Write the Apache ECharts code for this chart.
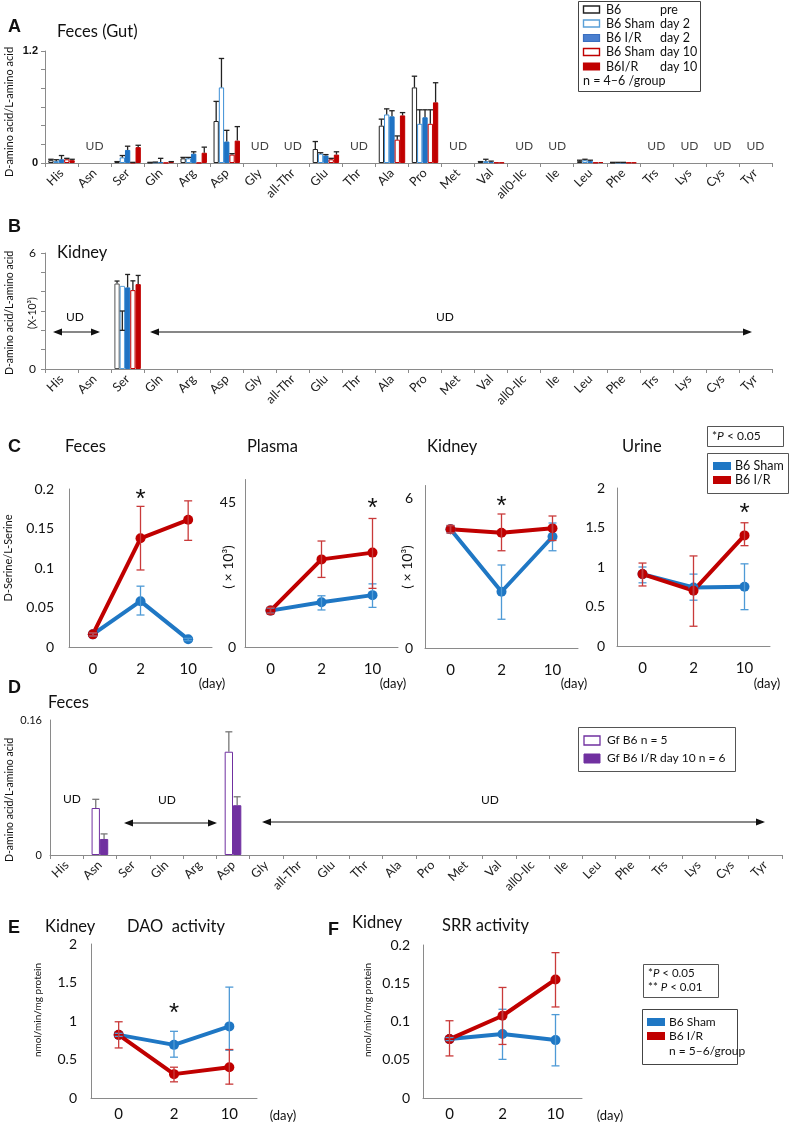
<!DOCTYPE html>
<html><head><meta charset="utf-8">
<script src="https://cdn.jsdelivr.net/npm/echarts@6/dist/echarts.min.js"></script>
<style>html,body{margin:0;padding:0;background:#fff}#c{width:789px;height:1123px}</style>
</head><body><div id="c"></div>
<script>
// ---------------- DATA ----------------
const aminoAcids = ['His','Asn','Ser','Gln','Arg','Asp','Gly','all-Thr','Glu','Thr','Ala','Pro','Met','Val','all0-Ilc','Ile','Leu','Phe','Trs','Lys','Cys','Tyr'];
const udA = ['Asn','Gly','all-Thr','Thr','Met','all0-Ilc','Ile','Trs','Lys','Cys','Tyr'];
// Panel A (Feces, Gut): means and upper error ends
const aB6Pre     = [0.03,null,0.01,0.005,0.05,0.45,null,null,0.15,null,0.40,0.81,null,0.01,null,null,0.02,0.005,null,null,null,null];
const aB6PreErr  = [0.04,null,0.015,0.007,0.06,0.66,null,null,0.23,null,0.47,0.93,null,0.015,null,null,0.03,0.007,null,null,null,null];
const aSham2     = [0.02,null,0.06,0.008,0.05,0.81,null,null,0.10,null,0.52,0.42,null,0.02,null,null,0.03,0.005,null,null,null,null];
const aSham2Err  = [0.035,null,0.08,0.01,0.06,1.12,null,null,0.11,null,0.58,0.57,null,0.04,null,null,0.04,0.007,null,null,null,null];
const aIR2       = [0.04,null,0.14,0.01,0.10,0.23,null,null,0.08,null,0.50,0.49,null,0.01,null,null,0.02,0.005,null,null,null,null];
const aIR2Err    = [0.08,null,0.18,0.05,0.12,0.35,null,null,0.09,null,0.56,0.57,null,0.02,null,null,0.03,0.007,null,null,null,null];
const aSham10    = [0.04,null,0.005,0.002,0.002,0.09,null,null,0.04,null,0.25,0.42,null,0.005,null,null,0.005,0.005,null,null,null,null];
const aSham10Err = [0.05,null,0.007,null,null,0.10,null,null,0.05,null,0.29,0.57,null,null,null,null,null,null,null,null,null,null];
const aIR10      = [0.03,null,0.17,0.01,0.11,0.24,null,null,0.09,null,0.51,0.65,null,0.005,null,null,0.01,0.005,null,null,null,null];
const aIR10Err   = [0.04,null,0.19,0.015,0.17,0.39,null,null,0.12,null,0.54,0.86,null,null,null,null,null,null,null,null,null,null];
// Panel B (Kidney, x10^-3)
const bB6Pre     = [null,null,4.42,null,null,null,null,null,null,null,null,null,null,null,null,null,null,null,null,null,null,null];
const bB6PreErr  = [null,null,4.55,null,null,null,null,null,null,null,null,null,null,null,null,null,null,null,null,null,null,null];
const bSham2     = [null,null,4.30,null,null,null,null,null,null,null,null,null,null,null,null,null,null,null,null,null,null,null];
const bSham2Whisker = [2.0, 3.0]; // Ser only
const bIR2       = [null,null,4.22,null,null,null,null,null,null,null,null,null,null,null,null,null,null,null,null,null,null,null];
const bIR2Err    = [null,null,4.89,null,null,null,null,null,null,null,null,null,null,null,null,null,null,null,null,null,null,null];
const bSham10    = [null,null,4.08,null,null,null,null,null,null,null,null,null,null,null,null,null,null,null,null,null,null,null];
const bSham10Err = [null,null,4.56,null,null,null,null,null,null,null,null,null,null,null,null,null,null,null,null,null,null,null];
const bIR10      = [null,null,4.39,null,null,null,null,null,null,null,null,null,null,null,null,null,null,null,null,null,null,null];
const bIR10Err   = [null,null,4.84,null,null,null,null,null,null,null,null,null,null,null,null,null,null,null,null,null,null,null];
// Panel C (D-Serine/L-Serine)
const days = ['0','2','10'];
const cFecesSham = [0.016,0.058,0.0097], cFecesShamLo = [0.014,0.0405,0.008], cFecesShamHi = [0.018,0.077,0.011];
const cFecesIR   = [0.016,0.1376,0.161], cFecesIRLo = [0.014,0.0975,0.135], cFecesIRHi = [0.018,0.178,0.185];
const cPlasmaSham = [11.3,13.9,16.1], cPlasmaShamLo = [10.5,11.5,12.3], cPlasmaShamHi = [12.1,15.9,19.6];
const cPlasmaIR   = [11.3,27.2,29.3], cPlasmaIRLo = [10.3,21.6,18.2], cPlasmaIRHi = [12.3,32.9,39.9];
const cKidneySham = [4.75,2.25,4.45], cKidneyShamLo = [4.6,1.15,3.89], cKidneyShamHi = [4.9,3.32,5.0];
const cKidneyIR   = [4.75,4.61,4.79], cKidneyIRLo = [4.6,3.89,4.3], cKidneyIRHi = [4.9,5.36,5.28];
const cUrineSham = [0.91,0.74,0.75], cUrineShamLo = [0.8,0.58,0.46], cUrineShamHi = [1.0,0.91,1.04];
const cUrineIR   = [0.91,0.70,1.40], cUrineIRLo = [0.76,0.25,1.27], cUrineIRHi = [1.05,1.14,1.56];
// Panel D (germ-free feces)
const dGf     = [null,0.0557,null,null,null,0.1224,null,null,null,null,null,null,null,null,null,null,null,null,null,null,null,null];
const dGfErr  = [null,0.066,null,null,null,0.146,null,null,null,null,null,null,null,null,null,null,null,null,null,null,null,null];
const dGfIR   = [null,0.019,null,null,null,0.059,null,null,null,null,null,null,null,null,null,null,null,null,null,null,null,null];
const dGfIRErr= [null,0.025,null,null,null,0.069,null,null,null,null,null,null,null,null,null,null,null,null,null,null,null,null];
// Panel E (DAO activity)
const eSham = [0.82,0.69,0.93], eShamLo = [0.80,0.53,0.62], eShamHi = [0.84,0.866,1.44];
const eIR   = [0.82,0.31,0.40], eIRLo = [0.65,0.21,0.18], eIRHi = [0.99,0.40,0.63];
// Panel F (SRR activity)
const fSham = [0.077,0.0836,0.0757], fShamLo = [0.075,0.0505,0.042], fShamHi = [0.079,0.116,0.109];
const fIR   = [0.077,0.1075,0.155], fIRLo = [0.055,0.07,0.119], fIRHi = [0.101,0.1445,0.19];
// significance marks: [dayIndex, value position, text]
const starsFeces = [[1,0.1937,'*'],[2,0.205,'*']];
const starsPlasma = [[2,44.7,'*']];
const starsKidney = [[1,5.9,'*']];
const starsUrine = [[2,1.75,'*']];
const starsE = [[1,1.175,'*']];
const starsF = [[2,0.217,'**']];

// ---------------- STYLE ----------------
const FF = 'Lato, sans-serif';
const FB = '"Liberation Sans", Arial, sans-serif';
const BLUE = '#1f77c4', RED = '#c00000', BLUE_E = '#4e9ad6', RED_E = '#c93a3a';
const PURPLE = '#7030a0';

function errRender(o) {
  return function (params, api) {
    const idx = api.value(0);
    const lo = api.coord([idx, api.value(1)]);
    const hi = api.coord([idx, api.value(2)]);
    let x = lo[0];
    if (o.n) {
      const band = api.size([1, 0])[0];
      const gw = band * (1 - o.gap);
      const bw = gw / o.n;
      x = x - gw / 2 + bw * (o.slot + 0.5);
    }
    const c = o.cap, st = { stroke: o.color, lineWidth: o.lw };
    const ch = [
      { type: 'line', shape: { x1: x, y1: lo[1], x2: x, y2: hi[1] }, style: st },
      { type: 'line', shape: { x1: x - c, y1: hi[1], x2: x + c, y2: hi[1] }, style: st }
    ];
    if (o.both) ch.push({ type: 'line', shape: { x1: x - c, y1: lo[1], x2: x + c, y2: lo[1] }, style: st });
    return { type: 'group', children: ch };
  };
}
function errSeries(grid, vals, tops, o) {
  const data = [];
  vals.forEach((v, i) => { if (v != null && tops[i] != null) data.push([i, v, tops[i]]); });
  return { type: 'custom', xAxisIndex: grid, yAxisIndex: grid, renderItem: errRender(o), data, encode: { x: 0, y: [1, 2] }, z: 5, silent: true, clip: false };
}
function barSeries(grid, name, vals, fill, stroke, gap) {
  return { type: 'bar', name, xAxisIndex: grid, yAxisIndex: grid, data: vals, barGap: '0%', barCategoryGap: gap,
    itemStyle: { color: fill, borderColor: stroke, borderWidth: 1 }, silent: true };
}
function lineSeries(grid, vals, color, stars) {
  const s = { type: 'line', xAxisIndex: grid, yAxisIndex: grid, data: vals, symbol: 'circle', symbolSize: 10,
    lineStyle: { color, width: 4 }, itemStyle: { color }, silent: true, z: 3 };
  if (stars) {
    s.markPoint = { symbol: 'rect', symbolSize: 1, itemStyle: { color: 'rgba(0,0,0,0)' }, silent: true,
      label: { show: true, position: 'inside', fontSize: 26, color: '#111', fontFamily: FB, offset: [0, 6], formatter: p => p.data.t },
      data: stars.map(s => ({ coord: [s[0], s[1]], t: s[2] })) };
  }
  return s;
}
function lineErr(grid, lo, hi, color) {
  const data = lo.map((v, i) => [i, v, hi[i]]);
  return { type: 'custom', xAxisIndex: grid, yAxisIndex: grid, renderItem: errRender({ color, lw: 1.3, cap: 4, both: true }),
    data, encode: { x: 0, y: [1, 2] }, z: 4, silent: true, clip: false };
}
function udSeries(grid, cats, v) {
  return { type: 'scatter', xAxisIndex: grid, yAxisIndex: grid, data: cats.map(c => [c, v]), symbolSize: 1,
    itemStyle: { color: 'rgba(0,0,0,0)' }, silent: true,
    label: { show: true, position: 'inside', formatter: 'UD', fontSize: 12, color: '#111', fontFamily: FF } };
}
function only(list) { return v => list.some(t => Math.abs(v - t) < 1e-9) ? String(v) : ''; }

// grids: 0 A, 1 B, 2 C-feces, 3 C-plasma, 4 C-kidney, 5 C-urine, 6 D, 7 E, 8 F
const grids = [
  { left: 45, top: 51, width: 727, height: 112 },
  { left: 45, top: 253, width: 727, height: 116 },
  { left: 69, top: 489, width: 143, height: 158 },
  { left: 245, top: 479.5, width: 153, height: 167.5 },
  { left: 425, top: 485.5, width: 153, height: 162.5 },
  { left: 617, top: 488, width: 153, height: 158 },
  { left: 50, top: 720, width: 732, height: 135 },
  { left: 91, top: 944, width: 166, height: 154 },
  { left: 423, top: 945, width: 159, height: 153 }
];
const AX = '#8a8a8a';
function catAxisAA(g) {
  return { type: 'category', gridIndex: g, data: aminoAcids, axisLine: { lineStyle: { color: AX } },
    axisTick: { show: true, length: 4, lineStyle: { color: AX } },
    axisLabel: { rotate: 45, interval: 0, fontSize: 12.5, color: '#222', margin: 8, fontFamily: FF } };
}
function catAxisDay(g, margin) {
  return { type: 'category', gridIndex: g, data: days, axisLine: { lineStyle: { color: AX } }, axisTick: { show: false },
    axisLabel: { fontSize: 15, color: '#111', margin: margin, fontFamily: FF } };
}
function valAxis(g, max, interval, fmt, o) {
  o = o || {};
  return { type: 'value', gridIndex: g, min: 0, max, interval, splitLine: { show: false },
    axisLine: { show: true, lineStyle: { color: AX } },
    axisTick: { show: !!o.tick, length: 4, lineStyle: { color: AX } },
    axisLabel: { formatter: fmt, fontSize: o.fs || 14, color: '#111', margin: o.margin || 14, fontWeight: o.fw || 'normal', fontFamily: o.ff || FF, showMaxLabel: true } };
}

const xAxis = [catAxisAA(0), catAxisAA(1), catAxisDay(2, 15), catAxisDay(3, 15), catAxisDay(4, 15), catAxisDay(5, 15), catAxisAA(6), catAxisDay(7, 9), catAxisDay(8, 9)];
const yAxis = [
  valAxis(0, 1.2, 0.2, only([0, 1.2]), { tick: true, fs: 11, fw: 'bold', margin: 7, ff: FB }),
  valAxis(1, 6, 1, only([0, 6]), { tick: true, fs: 12, margin: 9 }),
  valAxis(2, 0.2, 0.05, only([0, 0.05, 0.1, 0.15, 0.2]), { margin: 15 }),
  valAxis(3, 52, 45, only([0, 45]), { margin: 9 }),
  valAxis(4, 6.5, 6, only([0, 6]), { margin: 12 }),
  valAxis(5, 2, 0.5, only([0, 0.5, 1, 1.5, 2]), { margin: 12 }),
  valAxis(6, 0.16, 0.16, only([0, 0.16]), { fs: 11, margin: 8 }),
  valAxis(7, 2, 0.5, only([0, 0.5, 1, 1.5, 2]), { margin: 14 }),
  valAxis(8, 0.2, 0.05, only([0, 0.05, 0.1, 0.15, 0.2]), { margin: 13 })
];

const GA = 0.2;
const series = [
  barSeries(0, 'B6 pre', aB6Pre, '#fff', '#222', '20%'),
  barSeries(0, 'B6 Sham day 2', aSham2, '#fff', '#3d8fd6', '20%'),
  barSeries(0, 'B6 I/R day 2', aIR2, '#1f73c4', '#1f73c4', '20%'),
  barSeries(0, 'B6 Sham day 10', aSham10, '#fff', RED, '20%'),
  barSeries(0, 'B6I/R day 10', aIR10, RED, RED, '20%'),
  errSeries(0, aB6Pre, aB6PreErr, { n: 5, gap: GA, slot: 0, color: '#222', lw: 1.3, cap: 2.7 }),
  errSeries(0, aSham2, aSham2Err, { n: 5, gap: GA, slot: 1, color: '#222', lw: 1.3, cap: 2.7 }),
  errSeries(0, aIR2, aIR2Err, { n: 5, gap: GA, slot: 2, color: '#222', lw: 1.3, cap: 2.7 }),
  errSeries(0, aSham10, aSham10Err, { n: 5, gap: GA, slot: 3, color: '#222', lw: 1.3, cap: 2.7 }),
  errSeries(0, aIR10, aIR10Err, { n: 5, gap: GA, slot: 4, color: '#222', lw: 1.3, cap: 2.7 }),
  udSeries(0, udA, 0.176),

  barSeries(1, 'B6 pre', bB6Pre, '#fff', '#555', '20%'),
  barSeries(1, 'B6 Sham day 2', bSham2, '#fff', '#5a9fd8', '20%'),
  barSeries(1, 'B6 I/R day 2', bIR2, '#1f73c4', '#1f73c4', '20%'),
  barSeries(1, 'B6 Sham day 10', bSham10, '#fff', RED, '20%'),
  barSeries(1, 'B6I/R day 10', bIR10, RED, RED, '20%'),
  errSeries(1, bB6Pre, bB6PreErr, { n: 5, gap: GA, slot: 0, color: '#222', lw: 1.3, cap: 2.5 }),
  { type: 'custom', xAxisIndex: 1, yAxisIndex: 1, renderItem: errRender({ n: 5, gap: GA, slot: 1, color: '#222', lw: 1.3, cap: 2.5, both: true }),
    data: [[2, bSham2Whisker[0], bSham2Whisker[1]]], encode: { x: 0, y: [1, 2] }, z: 5, silent: true },
  errSeries(1, bIR2, bIR2Err, { n: 5, gap: GA, slot: 2, color: '#222', lw: 1.3, cap: 2.5 }),
  errSeries(1, bSham10, bSham10Err, { n: 5, gap: GA, slot: 3, color: '#222', lw: 1.3, cap: 2.5 }),
  errSeries(1, bIR10, bIR10Err, { n: 5, gap: GA, slot: 4, color: '#222', lw: 1.3, cap: 2.5 }),

  lineErr(2, cFecesShamLo, cFecesShamHi, BLUE_E), lineErr(2, cFecesIRLo, cFecesIRHi, RED_E),
  lineSeries(2, cFecesSham, BLUE), lineSeries(2, cFecesIR, RED, starsFeces),
  lineErr(3, cPlasmaShamLo, cPlasmaShamHi, BLUE_E), lineErr(3, cPlasmaIRLo, cPlasmaIRHi, RED_E),
  lineSeries(3, cPlasmaSham, BLUE), lineSeries(3, cPlasmaIR, RED, starsPlasma),
  lineErr(4, cKidneyShamLo, cKidneyShamHi, BLUE_E), lineErr(4, cKidneyIRLo, cKidneyIRHi, RED_E),
  lineSeries(4, cKidneySham, BLUE), lineSeries(4, cKidneyIR, RED, starsKidney),
  lineErr(5, cUrineShamLo, cUrineShamHi, BLUE_E), lineErr(5, cUrineIRLo, cUrineIRHi, RED_E),
  lineSeries(5, cUrineSham, BLUE), lineSeries(5, cUrineIR, RED, starsUrine),

  barSeries(6, 'Gf B6 n = 5', dGf, '#fff', PURPLE, '50%'),
  barSeries(6, 'Gf B6 I/R day 10 n = 6', dGfIR, PURPLE, PURPLE, '50%'),
  errSeries(6, dGf, dGfErr, { n: 2, gap: 0.5, slot: 0, color: '#777', lw: 1.3, cap: 3.5 }),
  errSeries(6, dGfIR, dGfIRErr, { n: 2, gap: 0.5, slot: 1, color: '#777', lw: 1.3, cap: 3.5 }),

  lineErr(7, eShamLo, eShamHi, BLUE_E), lineErr(7, eIRLo, eIRHi, RED_E),
  lineSeries(7, eSham, BLUE), lineSeries(7, eIR, RED, starsE),
  lineErr(8, fShamLo, fShamHi, BLUE_E), lineErr(8, fIRLo, fIRHi, RED_E),
  lineSeries(8, fSham, BLUE), lineSeries(8, fIR, RED, starsF)
];

// ---------------- ANNOTATIONS ----------------
function T(x, y, text, size, o) {
  o = o || {};
  const st = { text, fontSize: size, fontFamily: o.ff || FF, fontWeight: o.fw || 'normal', fill: o.color || '#111',
      align: o.align || 'left', verticalAlign: 'middle' };
  if (o.rich) st.rich = o.rich;
  return { type: 'text', x, y, rotation: o.rot || 0, silent: true, z: 100, style: st };
}
function R(x, y, w, h, fill, stroke, lw) {
  return { type: 'rect', silent: true, z: 100, shape: { x, y, width: w, height: h }, style: { fill: fill || 'none', stroke: stroke || 'none', lineWidth: lw || 1 } };
}
function arrow(x1, x2, y) {
  const w = 9, h = 3.6;
  return [
    { type: 'line', silent: true, z: 100, shape: { x1: x1 + 2, y1: y, x2: x2 - 2, y2: y }, style: { stroke: '#111', lineWidth: 1.1 } },
    { type: 'polygon', silent: true, z: 100, shape: { points: [[x1, y], [x1 + w, y - h], [x1 + w, y + h]] }, style: { fill: '#111' } },
    { type: 'polygon', silent: true, z: 100, shape: { points: [[x2, y], [x2 - w, y - h], [x2 - w, y + h]] }, style: { fill: '#111' } }
  ];
}
const ROT = Math.PI / 2;
const pRich = { a: { fontSize: 12, fontFamily: FF, fill: '#111' }, i: { fontSize: 12, fontFamily: FF, fontStyle: 'italic', fill: '#111' } };
const pRich2 = { a: { fontSize: 11.5, fontFamily: FF, fill: '#111' }, i: { fontSize: 11.5, fontFamily: FF, fontStyle: 'italic', fill: '#111' } };

const els = [
  // Panel A
  T(8, 27, 'A', 18, { ff: FB, fw: 'bold' }),
  T(57, 32, 'Feces (Gut)', 16.5),
  T(9, 112, 'D-amino acid/L-amino acid', 11, { align: 'center', rot: ROT }),
  R(578.5, 1.5, 122, 90, '#fff', '#444', 1),
  R(583.5, 6, 16, 7, '#fff', '#222', 1.4), T(606, 9.5, 'B6', 12.5), T(660, 9.5, 'pre', 12.5),
  R(583.5, 20, 16, 7, '#fff', '#5aa0d8', 1.4), T(606, 23.5, 'B6 Sham', 12.5), T(660, 23.5, 'day 2', 12.5),
  R(583.5, 34.5, 16, 7, '#4a7fcf', '#3a6fc0', 1.2), T(606, 38, 'B6 I/R', 12.5), T(660, 38, 'day 2', 12.5),
  R(583.5, 48.5, 16, 7, '#fff', RED, 1.4), T(606, 52, 'B6 Sham', 12.5), T(660, 52, 'day 10', 12.5),
  R(583.5, 63, 16, 7, RED, RED, 1.2), T(606, 66.5, 'B6I/R', 12.5), T(660, 66.5, 'day 10', 12.5),
  T(583, 81, 'n = 4–6 /group', 12.5),
  // Panel B
  T(8, 227, 'B', 18, { ff: FB, fw: 'bold' }),
  T(57, 253, 'Kidney', 16.5),
  T(10, 313, 'D-amino acid/L-amino acid', 10.5, { align: 'center', rot: ROT }),
  T(33, 313, '(X-10³)', 10.5, { align: 'center', rot: ROT }),
  T(75, 317, 'UD', 12, { align: 'center' }),
  ...arrow(53, 100, 332),
  T(445, 317, 'UD', 12, { align: 'center' }),
  ...arrow(150, 752, 332),
  // Panel C
  T(8, 447, 'C', 18, { ff: FB, fw: 'bold' }),
  T(65, 447, 'Feces', 16.5), T(247, 447, 'Plasma', 16.5), T(427, 447, 'Kidney', 16.5), T(622, 447, 'Urine', 16.5),
  T(8, 558, 'D-Serine/L-Serine', 11, { align: 'center', rot: ROT }),
  T(228, 567, '( × 10³)', 14, { align: 'center', rot: ROT }),
  T(407, 567, '( × 10³)', 14, { align: 'center', rot: ROT }),
  T(212, 684, '(day)', 13, { align: 'center' }), T(393, 684, '(day)', 13, { align: 'center' }),
  T(574, 684, '(day)', 13, { align: 'center' }), T(767, 684, '(day)', 13, { align: 'center' }),
  R(707.5, 426.5, 76, 20, '#fff', '#555', 1),
  T(712, 436.5, '{a|*}{i|P}{a| < 0.05}', 12, { rich: pRich }),
  R(707.5, 453.5, 81, 40, '#fff', '#555', 1),
  R(713, 462, 18, 8, BLUE, null), T(735, 466, 'B6 Sham', 12.5),
  R(713, 476, 18, 8, RED, null), T(735, 480, 'B6 I/R', 12.5),
  // Panel D
  T(8, 688, 'D', 18, { ff: FB, fw: 'bold' }),
  T(48, 703, 'Feces', 16.5),
  T(10, 800, 'D-amino acid/L-amino acid', 10.5, { align: 'center', rot: ROT }),
  T(72, 799, 'UD', 12, { align: 'center' }),
  T(167, 800, 'UD', 12, { align: 'center' }),
  ...arrow(124, 217, 823),
  T(490, 800, 'UD', 12, { align: 'center' }),
  ...arrow(262, 765, 822),
  R(578.5, 727.5, 157, 44, '#fff', '#555', 1),
  R(584, 736, 16, 9, '#fff', PURPLE, 1.3), T(607, 740.5, 'Gf B6 n = 5', 12),
  R(584, 754, 16, 9, PURPLE, PURPLE, 1), T(607, 758.5, 'Gf B6 I/R day 10 n = 6', 12),
  // Panel E
  T(8, 928, 'E', 18, { ff: FB, fw: 'bold' }),
  T(45, 927, 'Kidney', 16.5), T(127, 927, 'DAO  activity', 16.5),
  T(38, 1010, 'nmol/min/mg protein', 10, { align: 'center', rot: ROT }),
  T(283, 1116, '(day)', 13, { align: 'center' }),
  // Panel F
  T(328, 930, 'F', 18, { ff: FB, fw: 'bold' }),
  T(352, 923, 'Kidney', 16.5), T(442, 926, 'SRR activity', 16.5),
  T(368, 1010, 'nmol/min/mg protein', 10, { align: 'center', rot: ROT }),
  T(610, 1116, '(day)', 13, { align: 'center' }),
  R(643.5, 964.5, 75, 33, '#fff', '#555', 1),
  T(648, 973.5, '{a|*}{i|P}{a| < 0.05}', 11.5, { rich: pRich2 }),
  T(648, 987.5, '{a|** }{i|P}{a| < 0.01}', 11.5, { rich: pRich2 }),
  R(642.5, 1009.5, 95, 55, '#fff', '#444', 1),
  R(647, 1018, 18, 8, BLUE, null), T(669, 1022, 'B6 Sham', 12),
  R(647, 1032, 18, 8, RED, null), T(669, 1036, 'B6 I/R', 12),
  T(669, 1051, 'n = 5–6/group', 12)
];

const chart = echarts.init(document.getElementById('c'));
chart.setOption({
  animation: false,
  backgroundColor: '#fff',
  grid: grids,
  xAxis, yAxis, series,
  graphic: { elements: els }
});
</script></body></html>
